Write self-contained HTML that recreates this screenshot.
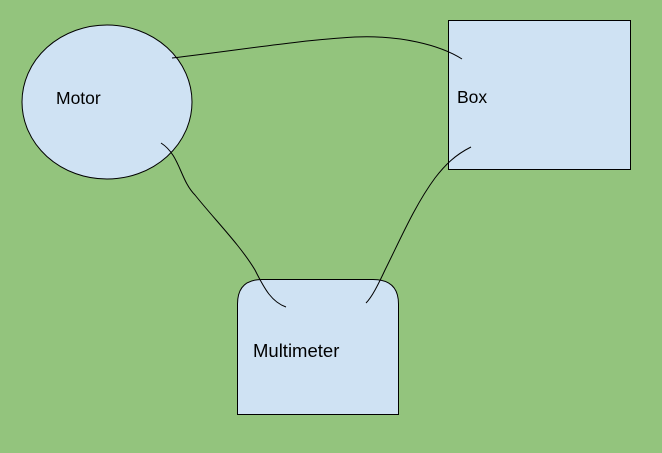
<!DOCTYPE html>
<html><head><style>html,body{margin:0;padding:0;background:#93c47d;}</style></head>
<body>
<svg width="662" height="453" xmlns="http://www.w3.org/2000/svg" style="display:block">
<rect width="662" height="453" fill="#93c47d"/>
<ellipse cx="107" cy="102" rx="85" ry="77" fill="#cfe2f3" stroke="#000" stroke-width="1"/>
<rect x="448.5" y="20.5" width="182" height="149" fill="#cfe2f3" stroke="#000" stroke-width="1"/>
<path d="M237.5,414.5 V304 Q237.5,279.5 262,279.5 H373 Q398.5,279.5 398.5,304 V414.5 Z" fill="#cfe2f3" stroke="#000" stroke-width="1"/>
<path d="M172,58 C240,50 300,40 355,37 C400,35 440,45 462,59" fill="none" stroke="#000" stroke-width="1"/>
<path d="M161,143 C180,155 180,180 195,195 C215,220 240,245 255,270 C265,290 272,302 286,307" fill="none" stroke="#000" stroke-width="1"/>
<path d="M471,147 C455,155 445,165 435,178 C415,205 400,240 385,270 C378,285 372,297 366,303" fill="none" stroke="#000" stroke-width="1"/>
<g font-family="Liberation Sans, sans-serif" font-size="17.5" fill="#000">
<text x="56" y="104">Motor</text>
<text x="457" y="103">Box</text>
<text x="253" y="357" font-size="18.5">Multimeter</text>
</g>
</svg>
</body></html>
